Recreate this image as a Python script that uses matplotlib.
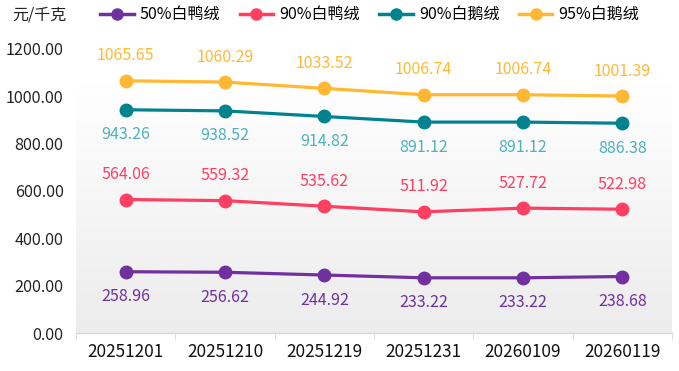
import matplotlib
matplotlib.use("Agg")
import matplotlib.pyplot as plt
import numpy as np
from matplotlib.lines import Line2D
from matplotlib.colors import LinearSegmentedColormap

plt.rcParams['font.family'] = ['Noto Sans CJK SC', 'DejaVu Sans']

dates = ["20251201", "20251210", "20251219", "20251231", "20260109", "20260119"]
series_names = ["50%白鸭绒", "90%白鸭绒", "90%白鹅绒", "95%白鹅绒"]
duck50 = [258.96, 256.62, 244.92, 233.22, 233.22, 238.68]
duck90 = [564.06, 559.32, 535.62, 511.92, 527.72, 522.98]
goose90 = [943.26, 938.52, 914.82, 891.12, 891.12, 886.38]
goose95 = [1065.65, 1060.29, 1033.52, 1006.74, 1006.74, 1001.39]

line_colors = ["#7030A0", "#FF3F62", "#00838F", "#FFB833"]
label_colors = ["#7030A0", "#FF3F62", "#4FB0C0", "#FFB833"]
label_offsets = [-25, 25, -25, 25]  # px: below / above

fig = plt.figure(figsize=(6.79, 3.71), dpi=100)
ax = fig.add_axes([76/679, 38/371, 596/679, 284/371])

x = np.arange(len(dates))
ax.set_xlim(-0.5, len(dates) - 0.5)
ax.set_ylim(0, 1200)

# gradient background
grad = np.linspace(0, 1, 256).reshape(-1, 1)
cmap = LinearSegmentedColormap.from_list("g", ["#ffffff", "#ececec"])
ax.imshow(grad, cmap=cmap, aspect="auto", extent=(-0.5, len(dates) - 0.5, 0, 1055),
          origin="upper", zorder=0)

all_series = [duck50, duck90, goose90, goose95]
for vals, lc, tc, off in zip(all_series, line_colors, label_colors, label_offsets):
    ax.plot(x, vals, color=lc, lw=2.3, marker="o", ms=9, zorder=3)
    for xi, v in zip(x, vals):
        ax.annotate(f"{v:.2f}", (xi, v), xytext=(0, off), textcoords="offset pixels",
                    ha="center", va="center", color=tc, fontsize=11.5, zorder=4)

ax.set_yticks(np.arange(0, 1201, 200))
ax.set_yticklabels([f"{v:.2f}" for v in np.arange(0, 1201, 200)], fontsize=11.7, color="#222222")
ax.set_xticks(x)
ax.set_xticklabels(dates, fontsize=12.4, color="#111111")
ax.set_xticks(np.arange(-0.5, len(dates), 1), minor=True)
ax.tick_params(axis="x", which="major", length=0, pad=7)
ax.tick_params(axis="x", which="minor", length=5, color="#d9d9d9")
ax.tick_params(axis="y", length=0, pad=9)
for s in ["top", "right", "left"]:
    ax.spines[s].set_visible(False)
ax.spines["bottom"].set_color("#d9d9d9")
ax.spines["bottom"].set_linewidth(1)
ax.set_facecolor("white")

fig.text(12/679, 1 - 15/371, "元/千克", fontsize=11.5, va="center", ha="left", color="#222222")

handles = [Line2D([0], [0], color=c, lw=2.5, marker="o", ms=8) for c in line_colors]
fig.legend(handles, series_names, loc="center left", bbox_to_anchor=(100/679, 1 - 15/371),
           ncol=4, frameon=False, fontsize=11.5, handlelength=2.1, handletextpad=0.4,
           columnspacing=1.2, borderaxespad=0, borderpad=0)

fig.savefig("out.png", dpi=100)
